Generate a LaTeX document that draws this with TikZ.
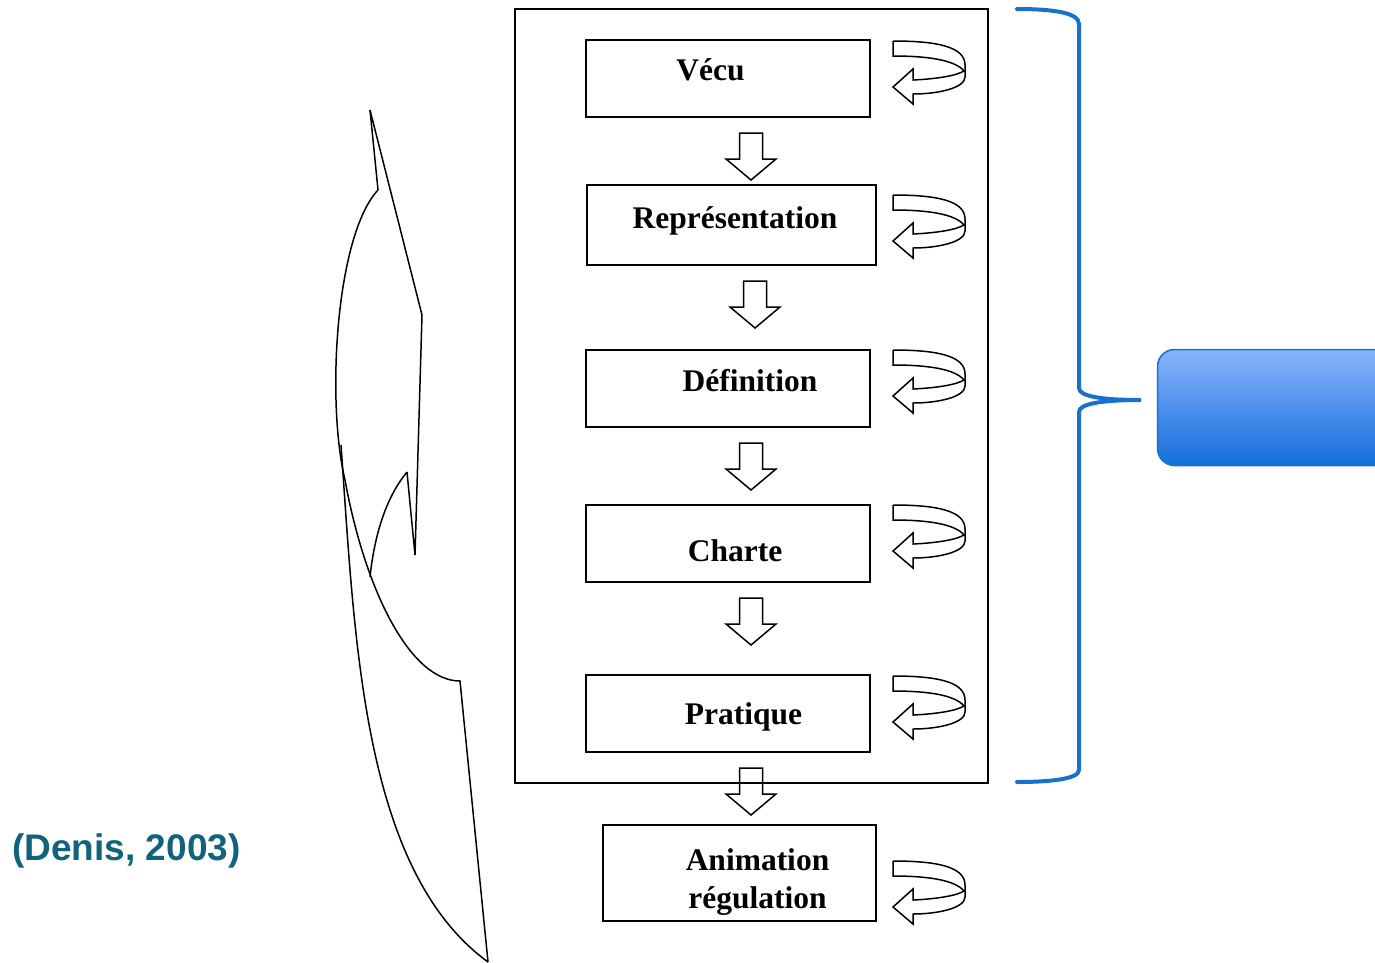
\documentclass[tikz,border=0pt]{standalone}
\usepackage{fontspec}
\setmainfont{Liberation Serif}
\newfontfamily\refsans{Liberation Sans}
\definecolor{bracecol}{RGB}{22,114,204}
\definecolor{citecol}{RGB}{16,99,122}
\definecolor{boxtop}{RGB}{137,180,252}
\definecolor{boxbot}{RGB}{19,110,220}
\tikzset{
  stepbox/.style={draw=black, line width=1.6pt, fill=white, inner sep=0pt},
  steptext/.style={anchor=base, inner sep=0pt, font=\fontsize{31.5}{38}\selectfont\bfseries},
  aline/.style={draw=black, line width=1.5pt, line join=miter},
  darrow/.pic={
    \draw[aline] (-11.5,0) -- (11.5,0) -- (11.5,26) -- (25,26) -- (0,47) -- (-25,26) -- (-11.5,26) -- cycle;
  },
  uturn/.pic={
    \draw[aline, fill=white] (0,0) .. controls (45,0) and (72,6) .. (72,24) -- (72,36)
      .. controls (72,47) and (45,53) .. (20,53) -- (20,63) -- (0,46) -- (20,28) -- (20,39)
      .. controls (42,38) and (63,35) .. (71,30);
    \draw[aline] (0,0) -- (0,15) .. controls (35,15) and (62,19) .. (71,30);
  }
}
\begin{document}
\begin{tikzpicture}[x=1pt,y=-1pt]
\useasboundingbox (0,0) rectangle (1375,962);

% outer frame
\node[draw=black, line width=1.6pt, inner sep=0pt, minimum width=473pt, minimum height=774pt] (frame) at (751.5,396) {};

% step boxes
\node[stepbox, minimum width=284pt, minimum height=77pt] (vecu) at (728,78.5) {};
\node[stepbox, minimum width=289pt, minimum height=80pt] (repr) at (731.5,225) {};
\node[stepbox, minimum width=284pt, minimum height=77pt] (defi) at (728,388.5) {};
\node[stepbox, minimum width=284pt, minimum height=77pt] (charte) at (728,543.5) {};
\node[stepbox, minimum width=284pt, minimum height=77pt] (prat) at (728,713.5) {};
\node[stepbox, minimum width=273pt, minimum height=96pt] (anim) at (739.5,873) {};

% texts
\node[steptext] (vecut) at (710.5,80) {Vécu};
\node[steptext] (reprt) at (735,228) {Représentation};
\node[steptext] (defit) at (750,391) {Définition};
\node[steptext] (chartet) at (735,561) {Charte};
\node[steptext] (pratt) at (743.5,724) {Pratique};
\node[steptext] (animt1) at (757.5,870) {Animation};
\node[steptext] (animt2) at (757.5,908) {régulation};

% down block arrows
\pic at (751,133) {darrow};
\pic at (755,281) {darrow};
\pic at (751,443) {darrow};
\pic at (751,598) {darrow};
\pic at (751,768) {darrow};

% u-turn arrows
\pic at (893,41) {uturn};
\pic at (893,195) {uturn};
\pic at (893,350) {uturn};
\pic at (893,505) {uturn};
\pic at (893,676) {uturn};
\pic at (893,861) {uturn};

% left curved arrow
\begin{scope}[line width=1.5pt, line join=miter]
\draw (370,110) -- (378,190);
\draw (370,110) -- (422,315) -- (415,555) -- (407,472);
\draw (407,472) .. controls (388,495) and (375,530) .. (370,577);
\draw (378,190) .. controls (336,235) and (326,400) .. (345,480)
      .. controls (365,590) and (410,681) .. (460,681) -- (488,962);
\draw (341,445) .. controls (355,640) and (362,870) .. (488,962);
\end{scope}

% brace
\draw[bracecol, line width=4pt, line cap=round]
  (1017,9) .. controls (1050,9) and (1079,12) .. (1079,24) -- (1079,388)
  .. controls (1079,396) and (1100,400) .. (1141,400)
  .. controls (1100,400) and (1079,404) .. (1079,412) -- (1079,770)
  .. controls (1079,779) and (1050,782) .. (1017,782);

% blue box (cut by the picture edge)
\begin{scope}
\clip (0,0) rectangle (1375,962);
\node[draw=bracecol, line width=1.5pt, rounded corners=17pt, top color=boxtop, bottom color=boxbot,
      minimum width=260pt, minimum height=116pt, inner sep=0pt] (goal) at (1287.5,407.5) {};
\end{scope}

% citation
\node[anchor=base, inner sep=0pt, text=citecol, font=\refsans\bfseries\fontsize{37}{44}\selectfont] (cite) at (126.5,860) {(Denis, 2003)};
\end{tikzpicture}
\end{document}
